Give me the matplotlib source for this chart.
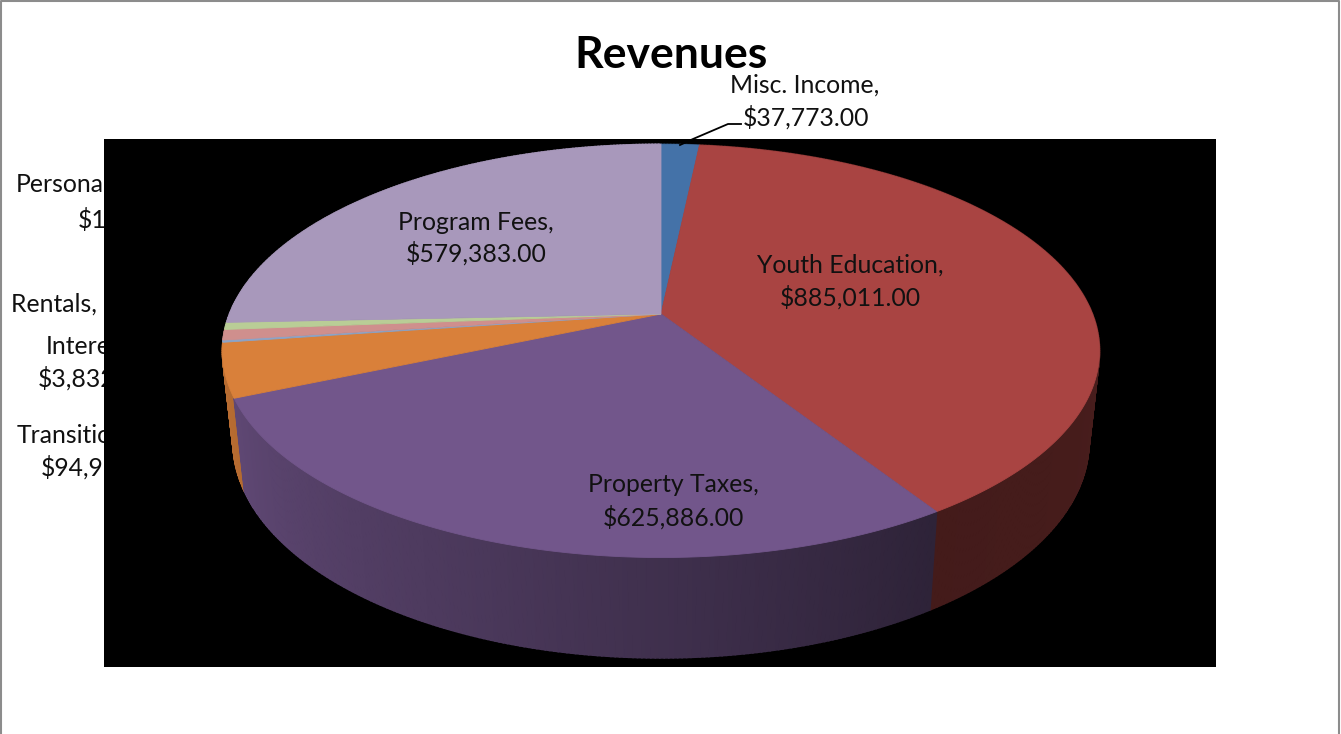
#Revenues pie, drawn by hand as perspective 3D disk (matplotlib pie is flat only)
import numpy as np
import matplotlib
matplotlib.use('Agg')
import matplotlib.pyplot as plt
from matplotlib.patches import Rectangle

#slices, clockwise from the top
categories = ['Misc. Income', 'Youth Education', 'Property Taxes', 'Transition',
              'Interest', 'Rentals', 'Personal', 'Program Fees']
values = [37773, 885011, 625886, 94960, 3832, 18500, 12500, 579383]
colors = ['#4472a8', '#a94442', '#72568b', '#d9803a', '#8ba4c8', '#cf8f8d', '#b9cd96', '#a898bb']

#disk geometry in pixels: apex, scale and perspective of top and bottom face
top = dict(cx=661, cy=314, a=431.5, b=200, k=0.1787)
bottom = dict(cx=661, cy=403.4, a=421, b=209, k=0.1787)

#side wall brightness against angle (degrees clockwise from top)
shade_angle = [0, 90, 147, 200, 246, 270, 360]
shade_value = [.43, .43, .40, .65, .83, .88, .88]

label_size = 17.8
label_color = '#111111'


def project(theta, face):
    #theta in degrees clockwise from the back of the disk
    u = np.sin(np.radians(theta))
    v = np.cos(np.radians(theta))
    w = 1 + face['k'] * v
    return face['cx'] + face['a'] * u / w, face['cy'] - face['b'] * v / w


def darker(color, f):
    return tuple(c * f for c in matplotlib.colors.to_rgb(color))


def label(x, y, s, ha='center', zorder=7):
    ax.text(x, y, s, ha=ha, va='center', fontsize=label_size, color=label_color, zorder=zorder)


plt.rcParams['font.family'] = ['Lato', 'DejaVu Sans']
fig = plt.figure(figsize=(13.41, 7.34), dpi=100)
ax = fig.add_axes([0, 0, 1, 1])
ax.set_xlim(0, 1341)
ax.set_ylim(734, 0)
ax.axis('off')

#outer frame of the chart, open at the bottom
ax.plot([1.5, 1.5, 1339.5, 1339.5], [734, 1, 1, 734], color='#8c8c8c', lw=1.5, zorder=1)

ax.text(671, 55, 'Revenues', ha='center', va='center', fontsize=32, fontweight='bold', zorder=2)

#outside labels sit under the black plot area, which cuts them off
label(16, 185, 'Personal', ha='left', zorder=2)
label(78, 219, '$12,500.00', ha='left', zorder=2)
label(11, 303, 'Rentals, $18,500.00', ha='left', zorder=2)
label(46, 346, 'Interest,', ha='left', zorder=2)
label(38, 378, '$3,832.00', ha='left', zorder=2)
label(17, 435, 'Transition,', ha='left', zorder=2)
label(41, 467, '$94,960.00', ha='left', zorder=2)

ax.add_patch(Rectangle((104, 139), 1112, 528, facecolor='black', edgecolor='none', zorder=3))

edges = np.cumsum([0] + values) / sum(values) * 360

#side wall, back to front
quads = []
for i, color in enumerate(colors):
    steps = np.arange(edges[i], edges[i + 1], 0.5)
    for t in steps:
        t2 = min(t + 0.5, edges[i + 1])
        quads.append((np.cos(np.radians((t + t2) / 2)), t, t2, color))
quads.sort(key=lambda q: -q[0])
for _, t, t2, color in quads:
    x1, y1 = project(t, top)
    x2, y2 = project(t2, top)
    x3, y3 = project(t2, bottom)
    x4, y4 = project(t, bottom)
    c = darker(color, np.interp((t + t2) / 2, shade_angle, shade_value))
    #wide stroke closes the seams between neighbours
    ax.fill([x1, x2, x3, x4], [y1, y2, y3, y4], color=c, lw=1.2, zorder=4)

#top face, stroke closes the seams here too
for i, color in enumerate(colors):
    theta = np.arange(edges[i], edges[i + 1], 0.25)
    theta = np.append(theta, edges[i + 1])
    x, y = project(theta, top)
    ax.fill(np.append(x, top['cx']), np.append(y, top['cy']), color=color, lw=0.6, zorder=5)

#leader line of the first label
ax.plot([741, 728, 693, 680], [124, 124, 139, 145], color='black', lw=1.3, zorder=6)

#inside labels
label(805, 85, categories[0] + ',')
label(806, 117, f'${values[0]:,.2f}')
label(850, 265, categories[1] + ',')
label(850, 297, f'${values[1]:,.2f}')
label(673, 485, categories[2] + ',')
label(673, 517, f'${values[2]:,.2f}')
label(476, 222, categories[7] + ',')
label(476, 253, f'${values[7]:,.2f}')

fig.savefig('out.png', dpi=100)
plt.close()
